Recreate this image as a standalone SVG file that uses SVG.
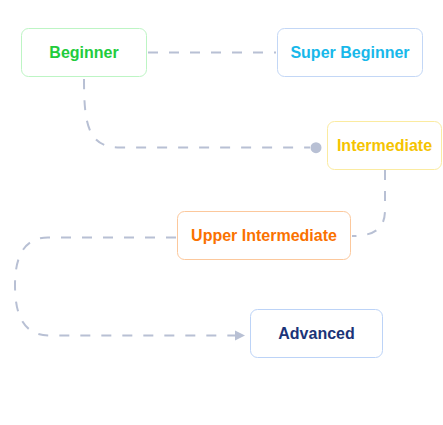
<svg xmlns="http://www.w3.org/2000/svg" width="443" height="425" viewBox="0 0 443 425">
<style>
.node rect{fill:#ffffff;stroke-width:1}
.node text{font-family:"Liberation Sans",Arial,sans-serif;font-weight:bold;font-size:16px;text-anchor:middle;dominant-baseline:central}
.edge{fill:none;stroke:#b8c0d4;stroke-width:2;stroke-dasharray:10 11}
</style>
<rect width="443" height="425" fill="#ffffff"/>
<g id="connectors">
<path class="edge" d="M148,52.5 L276,52.5"/>
<path class="edge" d="M84,79 C84,125 88,147.5 120,147.5 L310,147.5"/>
<circle cx="316" cy="147.7" r="5.5" fill="#b8c0d4"/>
<path class="edge" d="M385,170 L385,210 C385,228 375,236 352,236"/>
<path class="edge" d="M176,237.5 L48,237.5 C25,237.5 15,255 15,285 C15,318 25,335.5 50,335.5 L235,335.5"/>
<path d="M235,330.5 L245,335.5 L235,340.5 Z" fill="#b8c0d4"/>
</g>
<g id="beginner" class="node">
<rect x="21.5" y="28.5" width="125" height="48" rx="7" stroke="#bdf5c4"/>
<text x="84" y="52.5" fill="#22cc3c">Beginner</text>
</g>
<g id="super-beginner" class="node">
<rect x="277.5" y="28.5" width="145" height="48" rx="7" stroke="#c3d7f6"/>
<text x="350" y="52.5" fill="#18b8ea">Super Beginner</text>
</g>
<g id="intermediate" class="node">
<rect x="327.5" y="121.5" width="114" height="48" rx="7" stroke="#fbeba0"/>
<text x="384.5" y="145.5" fill="#f5c300">Intermediate</text>
</g>
<g id="upper-intermediate" class="node">
<rect x="177.5" y="211.5" width="173" height="48" rx="7" stroke="#fcc89c"/>
<text x="264" y="235" fill="#fa7200">Upper Intermediate</text>
</g>
<g id="advanced" class="node">
<rect x="250.5" y="309.5" width="132" height="48" rx="7" stroke="#bcd3f7"/>
<text x="316.5" y="333" fill="#1b3478">Advanced</text>
</g>
</svg>
